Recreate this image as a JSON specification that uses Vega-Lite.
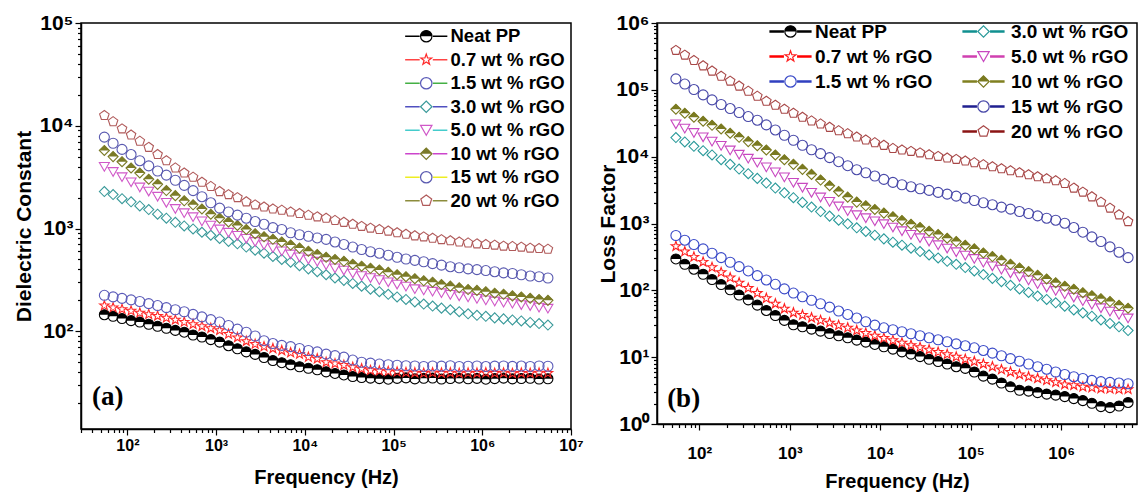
{
"$schema": "https://vega.github.io/schema/vega-lite/v6.json",
"background": "white",
"padding": {"left": 12, "top": 11, "right": 0, "bottom": 0},
"bounds": "flush",
"spacing": 86,
"config": {
  "font": "Liberation Sans",
  "view": {"stroke": "black", "strokeWidth": 1.5},
  "axis": {"grid": false, "domainColor": "black", "domainWidth": 1.5, "tickColor": "black", "tickWidth": 1.2, "labelColor": "black", "titleColor": "black", "labelFont": "Liberation Sans", "titleFont": "Liberation Sans", "labelFontWeight": "bold", "titleFontWeight": "bold", "titleFontSize": 20, "labelOverlap": false, "labelFlush": false},
  "legend": {"labelFont": "Liberation Sans", "labelFontWeight": "bold", "labelColor": "black", "padding": 0}
},
"datasets": {
"a": [
{"s":"Neat PP","f":55,"v":145},{"s":"Neat PP","f":69,"v":140},{"s":"Neat PP","f":87,"v":133},{"s":"Neat PP","f":110,"v":127},{"s":"Neat PP","f":138,"v":123},{"s":"Neat PP","f":174,"v":117},{"s":"Neat PP","f":219,"v":112},{"s":"Neat PP","f":275,"v":107},{"s":"Neat PP","f":347,"v":102},{"s":"Neat PP","f":437,"v":98},
{"s":"Neat PP","f":550,"v":92},{"s":"Neat PP","f":692,"v":88},{"s":"Neat PP","f":871,"v":83},{"s":"Neat PP","f":1096,"v":78.5},{"s":"Neat PP","f":1380,"v":72.4},{"s":"Neat PP","f":1738,"v":67.6},{"s":"Neat PP","f":2188,"v":63},{"s":"Neat PP","f":2754,"v":59.6},{"s":"Neat PP","f":3467,"v":55.6},{"s":"Neat PP","f":4365,"v":51.9},
{"s":"Neat PP","f":5495,"v":49.5},{"s":"Neat PP","f":6918,"v":47.3},{"s":"Neat PP","f":8710,"v":45.2},{"s":"Neat PP","f":10965,"v":43.7},{"s":"Neat PP","f":13804,"v":42.2},{"s":"Neat PP","f":17378,"v":40.3},{"s":"Neat PP","f":21878,"v":38.9},{"s":"Neat PP","f":27542,"v":37.6},{"s":"Neat PP","f":34674,"v":36.3},{"s":"Neat PP","f":43652,"v":35.5},
{"s":"Neat PP","f":54954,"v":35},{"s":"Neat PP","f":69183,"v":34.6},{"s":"Neat PP","f":87096,"v":34.2},{"s":"Neat PP","f":109648,"v":34.8},{"s":"Neat PP","f":138038,"v":35.2},{"s":"Neat PP","f":173780,"v":34.4},{"s":"Neat PP","f":218776,"v":34.9},{"s":"Neat PP","f":275423,"v":35.1},{"s":"Neat PP","f":346737,"v":34.3},{"s":"Neat PP","f":436516,"v":34.7},
{"s":"Neat PP","f":549541,"v":35},{"s":"Neat PP","f":691831,"v":34.5},{"s":"Neat PP","f":870964,"v":34.8},{"s":"Neat PP","f":1096478,"v":34.2},{"s":"Neat PP","f":1380384,"v":34.6},{"s":"Neat PP","f":1737801,"v":35},{"s":"Neat PP","f":2187762,"v":34.4},{"s":"Neat PP","f":2754229,"v":34.7},{"s":"Neat PP","f":3467369,"v":34.9},{"s":"Neat PP","f":4365158,"v":34.3},
{"s":"Neat PP","f":5495409,"v":34.5},
{"s":"0.7 wt % rGO","f":55,"v":178},{"s":"0.7 wt % rGO","f":69,"v":170},{"s":"0.7 wt % rGO","f":87,"v":164},{"s":"0.7 wt % rGO","f":110,"v":158},{"s":"0.7 wt % rGO","f":138,"v":151},{"s":"0.7 wt % rGO","f":174,"v":146},{"s":"0.7 wt % rGO","f":219,"v":141},{"s":"0.7 wt % rGO","f":275,"v":135},{"s":"0.7 wt % rGO","f":347,"v":129},{"s":"0.7 wt % rGO","f":437,"v":123},
{"s":"0.7 wt % rGO","f":550,"v":117},{"s":"0.7 wt % rGO","f":692,"v":112},{"s":"0.7 wt % rGO","f":871,"v":107},{"s":"0.7 wt % rGO","f":1096,"v":102},{"s":"0.7 wt % rGO","f":1380,"v":94},{"s":"0.7 wt % rGO","f":1738,"v":87},{"s":"0.7 wt % rGO","f":2188,"v":80},{"s":"0.7 wt % rGO","f":2754,"v":75},{"s":"0.7 wt % rGO","f":3467,"v":71},{"s":"0.7 wt % rGO","f":4365,"v":68},
{"s":"0.7 wt % rGO","f":5495,"v":65},{"s":"0.7 wt % rGO","f":6918,"v":62},{"s":"0.7 wt % rGO","f":8710,"v":60},{"s":"0.7 wt % rGO","f":10965,"v":56},{"s":"0.7 wt % rGO","f":13804,"v":54},{"s":"0.7 wt % rGO","f":17378,"v":50},{"s":"0.7 wt % rGO","f":21878,"v":48.4},{"s":"0.7 wt % rGO","f":27542,"v":46.8},{"s":"0.7 wt % rGO","f":34674,"v":44.7},{"s":"0.7 wt % rGO","f":43652,"v":43.2},
{"s":"0.7 wt % rGO","f":54954,"v":41.7},{"s":"0.7 wt % rGO","f":69183,"v":41.2},{"s":"0.7 wt % rGO","f":87096,"v":40.7},{"s":"0.7 wt % rGO","f":109648,"v":40.3},{"s":"0.7 wt % rGO","f":138038,"v":39.8},{"s":"0.7 wt % rGO","f":173780,"v":39.5},{"s":"0.7 wt % rGO","f":218776,"v":39.2},{"s":"0.7 wt % rGO","f":275423,"v":39.6},{"s":"0.7 wt % rGO","f":346737,"v":39.3},{"s":"0.7 wt % rGO","f":436516,"v":39.5},
{"s":"0.7 wt % rGO","f":549541,"v":39.1},{"s":"0.7 wt % rGO","f":691831,"v":39.4},{"s":"0.7 wt % rGO","f":870964,"v":39.3},{"s":"0.7 wt % rGO","f":1096478,"v":39.6},{"s":"0.7 wt % rGO","f":1380384,"v":39.2},{"s":"0.7 wt % rGO","f":1737801,"v":39.4},{"s":"0.7 wt % rGO","f":2187762,"v":39.0},{"s":"0.7 wt % rGO","f":2754229,"v":39.3},{"s":"0.7 wt % rGO","f":3467369,"v":39.1},{"s":"0.7 wt % rGO","f":4365158,"v":39.4},
{"s":"0.7 wt % rGO","f":5495409,"v":39.2},
{"s":"1.5 wt % rGO","f":55,"v":224},{"s":"1.5 wt % rGO","f":69,"v":216},{"s":"1.5 wt % rGO","f":87,"v":209},{"s":"1.5 wt % rGO","f":110,"v":202},{"s":"1.5 wt % rGO","f":138,"v":195},{"s":"1.5 wt % rGO","f":174,"v":186},{"s":"1.5 wt % rGO","f":219,"v":178},{"s":"1.5 wt % rGO","f":275,"v":170},{"s":"1.5 wt % rGO","f":347,"v":162},{"s":"1.5 wt % rGO","f":437,"v":155},
{"s":"1.5 wt % rGO","f":550,"v":146},{"s":"1.5 wt % rGO","f":692,"v":138},{"s":"1.5 wt % rGO","f":871,"v":130},{"s":"1.5 wt % rGO","f":1096,"v":123},{"s":"1.5 wt % rGO","f":1380,"v":114},{"s":"1.5 wt % rGO","f":1738,"v":105},{"s":"1.5 wt % rGO","f":2188,"v":98},{"s":"1.5 wt % rGO","f":2754,"v":90},{"s":"1.5 wt % rGO","f":3467,"v":81},{"s":"1.5 wt % rGO","f":4365,"v":76},
{"s":"1.5 wt % rGO","f":5495,"v":73},{"s":"1.5 wt % rGO","f":6918,"v":71},{"s":"1.5 wt % rGO","f":8710,"v":68},{"s":"1.5 wt % rGO","f":10965,"v":65},{"s":"1.5 wt % rGO","f":13804,"v":63},{"s":"1.5 wt % rGO","f":17378,"v":60},{"s":"1.5 wt % rGO","f":21878,"v":58},{"s":"1.5 wt % rGO","f":27542,"v":56},{"s":"1.5 wt % rGO","f":34674,"v":52.5},{"s":"1.5 wt % rGO","f":43652,"v":50},
{"s":"1.5 wt % rGO","f":54954,"v":49},{"s":"1.5 wt % rGO","f":69183,"v":48},{"s":"1.5 wt % rGO","f":87096,"v":47.3},{"s":"1.5 wt % rGO","f":109648,"v":46.8},{"s":"1.5 wt % rGO","f":138038,"v":46.2},{"s":"1.5 wt % rGO","f":173780,"v":46},{"s":"1.5 wt % rGO","f":218776,"v":45.5},{"s":"1.5 wt % rGO","f":275423,"v":46},{"s":"1.5 wt % rGO","f":346737,"v":45.8},{"s":"1.5 wt % rGO","f":436516,"v":46.2},
{"s":"1.5 wt % rGO","f":549541,"v":45.5},{"s":"1.5 wt % rGO","f":691831,"v":45.7},{"s":"1.5 wt % rGO","f":870964,"v":46},{"s":"1.5 wt % rGO","f":1096478,"v":45.4},{"s":"1.5 wt % rGO","f":1380384,"v":45.8},{"s":"1.5 wt % rGO","f":1737801,"v":46},{"s":"1.5 wt % rGO","f":2187762,"v":45.6},{"s":"1.5 wt % rGO","f":2754229,"v":45.9},{"s":"1.5 wt % rGO","f":3467369,"v":45.5},{"s":"1.5 wt % rGO","f":4365158,"v":46},
{"s":"1.5 wt % rGO","f":5495409,"v":45.7},
{"s":"3.0 wt % rGO","f":55,"v":2290},{"s":"3.0 wt % rGO","f":69,"v":2140},{"s":"3.0 wt % rGO","f":87,"v":1950},{"s":"3.0 wt % rGO","f":110,"v":1820},{"s":"3.0 wt % rGO","f":138,"v":1660},{"s":"3.0 wt % rGO","f":174,"v":1530},{"s":"3.0 wt % rGO","f":219,"v":1380},{"s":"3.0 wt % rGO","f":275,"v":1260},{"s":"3.0 wt % rGO","f":347,"v":1150},{"s":"3.0 wt % rGO","f":437,"v":1060},
{"s":"3.0 wt % rGO","f":550,"v":990},{"s":"3.0 wt % rGO","f":692,"v":920},{"s":"3.0 wt % rGO","f":871,"v":860},{"s":"3.0 wt % rGO","f":1096,"v":800},{"s":"3.0 wt % rGO","f":1380,"v":750},{"s":"3.0 wt % rGO","f":1738,"v":710},{"s":"3.0 wt % rGO","f":2188,"v":660},{"s":"3.0 wt % rGO","f":2754,"v":615},{"s":"3.0 wt % rGO","f":3467,"v":575},{"s":"3.0 wt % rGO","f":4365,"v":535},
{"s":"3.0 wt % rGO","f":5495,"v":500},{"s":"3.0 wt % rGO","f":6918,"v":470},{"s":"3.0 wt % rGO","f":8710,"v":435},{"s":"3.0 wt % rGO","f":10965,"v":405},{"s":"3.0 wt % rGO","f":13804,"v":380},{"s":"3.0 wt % rGO","f":17378,"v":355},{"s":"3.0 wt % rGO","f":21878,"v":330},{"s":"3.0 wt % rGO","f":27542,"v":313},{"s":"3.0 wt % rGO","f":34674,"v":292},{"s":"3.0 wt % rGO","f":43652,"v":275},
{"s":"3.0 wt % rGO","f":54954,"v":257},{"s":"3.0 wt % rGO","f":69183,"v":243},{"s":"3.0 wt % rGO","f":87096,"v":229},{"s":"3.0 wt % rGO","f":109648,"v":216},{"s":"3.0 wt % rGO","f":138038,"v":204},{"s":"3.0 wt % rGO","f":173780,"v":193},{"s":"3.0 wt % rGO","f":218776,"v":184},{"s":"3.0 wt % rGO","f":275423,"v":176},{"s":"3.0 wt % rGO","f":346737,"v":168},{"s":"3.0 wt % rGO","f":436516,"v":162},
{"s":"3.0 wt % rGO","f":549541,"v":155},{"s":"3.0 wt % rGO","f":691831,"v":148},{"s":"3.0 wt % rGO","f":870964,"v":143},{"s":"3.0 wt % rGO","f":1096478,"v":140},{"s":"3.0 wt % rGO","f":1380384,"v":135},{"s":"3.0 wt % rGO","f":1737801,"v":132},{"s":"3.0 wt % rGO","f":2187762,"v":129},{"s":"3.0 wt % rGO","f":2754229,"v":126},{"s":"3.0 wt % rGO","f":3467369,"v":122},{"s":"3.0 wt % rGO","f":4365158,"v":119},
{"s":"3.0 wt % rGO","f":5495409,"v":115},
{"s":"5.0 wt % rGO","f":55,"v":3980},{"s":"5.0 wt % rGO","f":69,"v":3550},{"s":"5.0 wt % rGO","f":87,"v":3160},{"s":"5.0 wt % rGO","f":110,"v":2820},{"s":"5.0 wt % rGO","f":138,"v":2510},{"s":"5.0 wt % rGO","f":174,"v":2290},{"s":"5.0 wt % rGO","f":219,"v":2040},{"s":"5.0 wt % rGO","f":275,"v":1780},{"s":"5.0 wt % rGO","f":347,"v":1550},{"s":"5.0 wt % rGO","f":437,"v":1410},
{"s":"5.0 wt % rGO","f":550,"v":1290},{"s":"5.0 wt % rGO","f":692,"v":1175},{"s":"5.0 wt % rGO","f":871,"v":1070},{"s":"5.0 wt % rGO","f":1096,"v":980},{"s":"5.0 wt % rGO","f":1380,"v":910},{"s":"5.0 wt % rGO","f":1738,"v":850},{"s":"5.0 wt % rGO","f":2188,"v":795},{"s":"5.0 wt % rGO","f":2754,"v":740},{"s":"5.0 wt % rGO","f":3467,"v":690},{"s":"5.0 wt % rGO","f":4365,"v":645},
{"s":"5.0 wt % rGO","f":5495,"v":600},{"s":"5.0 wt % rGO","f":6918,"v":560},{"s":"5.0 wt % rGO","f":8710,"v":525},{"s":"5.0 wt % rGO","f":10965,"v":500},{"s":"5.0 wt % rGO","f":13804,"v":475},{"s":"5.0 wt % rGO","f":17378,"v":440},{"s":"5.0 wt % rGO","f":21878,"v":410},{"s":"5.0 wt % rGO","f":27542,"v":390},{"s":"5.0 wt % rGO","f":34674,"v":365},{"s":"5.0 wt % rGO","f":43652,"v":345},
{"s":"5.0 wt % rGO","f":54954,"v":330},{"s":"5.0 wt % rGO","f":69183,"v":315},{"s":"5.0 wt % rGO","f":87096,"v":300},{"s":"5.0 wt % rGO","f":109648,"v":285},{"s":"5.0 wt % rGO","f":138038,"v":272},{"s":"5.0 wt % rGO","f":173780,"v":257},{"s":"5.0 wt % rGO","f":218776,"v":250},{"s":"5.0 wt % rGO","f":275423,"v":243},{"s":"5.0 wt % rGO","f":346737,"v":235},{"s":"5.0 wt % rGO","f":436516,"v":226},
{"s":"5.0 wt % rGO","f":549541,"v":219},{"s":"5.0 wt % rGO","f":691831,"v":214},{"s":"5.0 wt % rGO","f":870964,"v":207},{"s":"5.0 wt % rGO","f":1096478,"v":200},{"s":"5.0 wt % rGO","f":1380384,"v":195},{"s":"5.0 wt % rGO","f":1737801,"v":190},{"s":"5.0 wt % rGO","f":2187762,"v":186},{"s":"5.0 wt % rGO","f":2754229,"v":180},{"s":"5.0 wt % rGO","f":3467369,"v":176},{"s":"5.0 wt % rGO","f":4365158,"v":170},
{"s":"5.0 wt % rGO","f":5495409,"v":166},
{"s":"10 wt % rGO","f":55,"v":5750},{"s":"10 wt % rGO","f":69,"v":5010},{"s":"10 wt % rGO","f":87,"v":4470},{"s":"10 wt % rGO","f":110,"v":3890},{"s":"10 wt % rGO","f":138,"v":3470},{"s":"10 wt % rGO","f":174,"v":3020},{"s":"10 wt % rGO","f":219,"v":2690},{"s":"10 wt % rGO","f":275,"v":2340},{"s":"10 wt % rGO","f":347,"v":2090},{"s":"10 wt % rGO","f":437,"v":1860},
{"s":"10 wt % rGO","f":550,"v":1700},{"s":"10 wt % rGO","f":692,"v":1550},{"s":"10 wt % rGO","f":871,"v":1380},{"s":"10 wt % rGO","f":1096,"v":1260},{"s":"10 wt % rGO","f":1380,"v":1160},{"s":"10 wt % rGO","f":1738,"v":1070},{"s":"10 wt % rGO","f":2188,"v":980},{"s":"10 wt % rGO","f":2754,"v":890},{"s":"10 wt % rGO","f":3467,"v":830},{"s":"10 wt % rGO","f":4365,"v":785},
{"s":"10 wt % rGO","f":5495,"v":740},{"s":"10 wt % rGO","f":6918,"v":690},{"s":"10 wt % rGO","f":8710,"v":645},{"s":"10 wt % rGO","f":10965,"v":600},{"s":"10 wt % rGO","f":13804,"v":560},{"s":"10 wt % rGO","f":17378,"v":525},{"s":"10 wt % rGO","f":21878,"v":500},{"s":"10 wt % rGO","f":27542,"v":480},{"s":"10 wt % rGO","f":34674,"v":450},{"s":"10 wt % rGO","f":43652,"v":430},
{"s":"10 wt % rGO","f":54954,"v":410},{"s":"10 wt % rGO","f":69183,"v":395},{"s":"10 wt % rGO","f":87096,"v":375},{"s":"10 wt % rGO","f":109648,"v":355},{"s":"10 wt % rGO","f":138038,"v":340},{"s":"10 wt % rGO","f":173780,"v":325},{"s":"10 wt % rGO","f":218776,"v":310},{"s":"10 wt % rGO","f":275423,"v":300},{"s":"10 wt % rGO","f":346737,"v":285},{"s":"10 wt % rGO","f":436516,"v":275},
{"s":"10 wt % rGO","f":549541,"v":265},{"s":"10 wt % rGO","f":691831,"v":255},{"s":"10 wt % rGO","f":870964,"v":250},{"s":"10 wt % rGO","f":1096478,"v":243},{"s":"10 wt % rGO","f":1380384,"v":235},{"s":"10 wt % rGO","f":1737801,"v":229},{"s":"10 wt % rGO","f":2187762,"v":221},{"s":"10 wt % rGO","f":2754229,"v":216},{"s":"10 wt % rGO","f":3467369,"v":210},{"s":"10 wt % rGO","f":4365158,"v":204},
{"s":"10 wt % rGO","f":5495409,"v":200},
{"s":"15 wt % rGO","f":55,"v":7760},{"s":"15 wt % rGO","f":69,"v":6760},{"s":"15 wt % rGO","f":87,"v":5890},{"s":"15 wt % rGO","f":110,"v":5250},{"s":"15 wt % rGO","f":138,"v":4570},{"s":"15 wt % rGO","f":174,"v":4070},{"s":"15 wt % rGO","f":219,"v":3630},{"s":"15 wt % rGO","f":275,"v":3310},{"s":"15 wt % rGO","f":347,"v":2950},{"s":"15 wt % rGO","f":437,"v":2630},
{"s":"15 wt % rGO","f":550,"v":2340},{"s":"15 wt % rGO","f":692,"v":2040},{"s":"15 wt % rGO","f":871,"v":1780},{"s":"15 wt % rGO","f":1096,"v":1580},{"s":"15 wt % rGO","f":1380,"v":1450},{"s":"15 wt % rGO","f":1738,"v":1350},{"s":"15 wt % rGO","f":2188,"v":1260},{"s":"15 wt % rGO","f":2754,"v":1170},{"s":"15 wt % rGO","f":3467,"v":1100},{"s":"15 wt % rGO","f":4365,"v":1020},
{"s":"15 wt % rGO","f":5495,"v":980},{"s":"15 wt % rGO","f":6918,"v":910},{"s":"15 wt % rGO","f":8710,"v":870},{"s":"15 wt % rGO","f":10965,"v":840},{"s":"15 wt % rGO","f":13804,"v":810},{"s":"15 wt % rGO","f":17378,"v":785},{"s":"15 wt % rGO","f":21878,"v":740},{"s":"15 wt % rGO","f":27542,"v":700},{"s":"15 wt % rGO","f":34674,"v":660},{"s":"15 wt % rGO","f":43652,"v":625},
{"s":"15 wt % rGO","f":54954,"v":595},{"s":"15 wt % rGO","f":69183,"v":575},{"s":"15 wt % rGO","f":87096,"v":550},{"s":"15 wt % rGO","f":109648,"v":525},{"s":"15 wt % rGO","f":138038,"v":505},{"s":"15 wt % rGO","f":173780,"v":490},{"s":"15 wt % rGO","f":218776,"v":475},{"s":"15 wt % rGO","f":275423,"v":455},{"s":"15 wt % rGO","f":346737,"v":440},{"s":"15 wt % rGO","f":436516,"v":425},
{"s":"15 wt % rGO","f":549541,"v":415},{"s":"15 wt % rGO","f":691831,"v":405},{"s":"15 wt % rGO","f":870964,"v":398},{"s":"15 wt % rGO","f":1096478,"v":390},{"s":"15 wt % rGO","f":1380384,"v":380},{"s":"15 wt % rGO","f":1737801,"v":370},{"s":"15 wt % rGO","f":2187762,"v":365},{"s":"15 wt % rGO","f":2754229,"v":355},{"s":"15 wt % rGO","f":3467369,"v":345},{"s":"15 wt % rGO","f":4365158,"v":340},
{"s":"15 wt % rGO","f":5495409,"v":330},
{"s":"20 wt % rGO","f":55,"v":12600},{"s":"20 wt % rGO","f":69,"v":10960},{"s":"20 wt % rGO","f":87,"v":9330},{"s":"20 wt % rGO","f":110,"v":8130},{"s":"20 wt % rGO","f":138,"v":7080},{"s":"20 wt % rGO","f":174,"v":6170},{"s":"20 wt % rGO","f":219,"v":5250},{"s":"20 wt % rGO","f":275,"v":4570},{"s":"20 wt % rGO","f":347,"v":3890},{"s":"20 wt % rGO","f":437,"v":3470},
{"s":"20 wt % rGO","f":550,"v":3160},{"s":"20 wt % rGO","f":692,"v":2820},{"s":"20 wt % rGO","f":871,"v":2570},{"s":"20 wt % rGO","f":1096,"v":2290},{"s":"20 wt % rGO","f":1380,"v":2140},{"s":"20 wt % rGO","f":1738,"v":2000},{"s":"20 wt % rGO","f":2188,"v":1820},{"s":"20 wt % rGO","f":2754,"v":1700},{"s":"20 wt % rGO","f":3467,"v":1620},{"s":"20 wt % rGO","f":4365,"v":1550},
{"s":"20 wt % rGO","f":5495,"v":1510},{"s":"20 wt % rGO","f":6918,"v":1450},{"s":"20 wt % rGO","f":8710,"v":1400},{"s":"20 wt % rGO","f":10965,"v":1350},{"s":"20 wt % rGO","f":13804,"v":1300},{"s":"20 wt % rGO","f":17378,"v":1260},{"s":"20 wt % rGO","f":21878,"v":1200},{"s":"20 wt % rGO","f":27542,"v":1150},{"s":"20 wt % rGO","f":34674,"v":1100},{"s":"20 wt % rGO","f":43652,"v":1050},
{"s":"20 wt % rGO","f":54954,"v":1010},{"s":"20 wt % rGO","f":69183,"v":980},{"s":"20 wt % rGO","f":87096,"v":945},{"s":"20 wt % rGO","f":109648,"v":910},{"s":"20 wt % rGO","f":138038,"v":880},{"s":"20 wt % rGO","f":173780,"v":850},{"s":"20 wt % rGO","f":218776,"v":830},{"s":"20 wt % rGO","f":275423,"v":805},{"s":"20 wt % rGO","f":346737,"v":780},{"s":"20 wt % rGO","f":436516,"v":760},
{"s":"20 wt % rGO","f":549541,"v":740},{"s":"20 wt % rGO","f":691831,"v":725},{"s":"20 wt % rGO","f":870964,"v":710},{"s":"20 wt % rGO","f":1096478,"v":700},{"s":"20 wt % rGO","f":1380384,"v":690},{"s":"20 wt % rGO","f":1737801,"v":675},{"s":"20 wt % rGO","f":2187762,"v":670},{"s":"20 wt % rGO","f":2754229,"v":660},{"s":"20 wt % rGO","f":3467369,"v":645},{"s":"20 wt % rGO","f":4365158,"v":640},
{"s":"20 wt % rGO","f":5495409,"v":630}
],
"b": [
{"s":"Neat PP","f":55,"v":295},{"s":"Neat PP","f":69,"v":245},{"s":"Neat PP","f":87,"v":207},{"s":"Neat PP","f":110,"v":174},{"s":"Neat PP","f":138,"v":145},{"s":"Neat PP","f":174,"v":122},{"s":"Neat PP","f":219,"v":102},{"s":"Neat PP","f":275,"v":85},{"s":"Neat PP","f":347,"v":72},{"s":"Neat PP","f":437,"v":60},
{"s":"Neat PP","f":550,"v":50},{"s":"Neat PP","f":692,"v":42},{"s":"Neat PP","f":871,"v":35.5},{"s":"Neat PP","f":1096,"v":30.5},{"s":"Neat PP","f":1380,"v":28.5},{"s":"Neat PP","f":1738,"v":26.3},{"s":"Neat PP","f":2188,"v":24.5},{"s":"Neat PP","f":2754,"v":22.6},{"s":"Neat PP","f":3467,"v":20.9},{"s":"Neat PP","f":4365,"v":19.5},
{"s":"Neat PP","f":5495,"v":18},{"s":"Neat PP","f":6918,"v":16.8},{"s":"Neat PP","f":8710,"v":15.5},{"s":"Neat PP","f":10965,"v":14.3},{"s":"Neat PP","f":13804,"v":13.2},{"s":"Neat PP","f":17378,"v":12},{"s":"Neat PP","f":21878,"v":11.1},{"s":"Neat PP","f":27542,"v":10.2},{"s":"Neat PP","f":34674,"v":9.3},{"s":"Neat PP","f":43652,"v":8.6},
{"s":"Neat PP","f":54954,"v":7.9},{"s":"Neat PP","f":69183,"v":7.2},{"s":"Neat PP","f":87096,"v":6.8},{"s":"Neat PP","f":109648,"v":6.0},{"s":"Neat PP","f":138038,"v":5.2},{"s":"Neat PP","f":173780,"v":4.7},{"s":"Neat PP","f":218776,"v":4.1},{"s":"Neat PP","f":275423,"v":3.6},{"s":"Neat PP","f":346737,"v":3.2},{"s":"Neat PP","f":436516,"v":3.1},
{"s":"Neat PP","f":549541,"v":2.95},{"s":"Neat PP","f":691831,"v":2.8},{"s":"Neat PP","f":870964,"v":2.7},{"s":"Neat PP","f":1096478,"v":2.57},{"s":"Neat PP","f":1380384,"v":2.4},{"s":"Neat PP","f":1737801,"v":2.24},{"s":"Neat PP","f":2187762,"v":2.04},{"s":"Neat PP","f":2754229,"v":1.82},{"s":"Neat PP","f":3467369,"v":1.76},{"s":"Neat PP","f":4365158,"v":1.86},
{"s":"Neat PP","f":5495409,"v":2.1},
{"s":"0.7 wt % rGO","f":55,"v":457},{"s":"0.7 wt % rGO","f":69,"v":380},{"s":"0.7 wt % rGO","f":87,"v":316},{"s":"0.7 wt % rGO","f":110,"v":266},{"s":"0.7 wt % rGO","f":138,"v":221},{"s":"0.7 wt % rGO","f":174,"v":186},{"s":"0.7 wt % rGO","f":219,"v":155},{"s":"0.7 wt % rGO","f":275,"v":130},{"s":"0.7 wt % rGO","f":347,"v":108},{"s":"0.7 wt % rGO","f":437,"v":91},
{"s":"0.7 wt % rGO","f":550,"v":76},{"s":"0.7 wt % rGO","f":692,"v":63},{"s":"0.7 wt % rGO","f":871,"v":53},{"s":"0.7 wt % rGO","f":1096,"v":46.2},{"s":"0.7 wt % rGO","f":1380,"v":42.7},{"s":"0.7 wt % rGO","f":1738,"v":38.9},{"s":"0.7 wt % rGO","f":2188,"v":35.5},{"s":"0.7 wt % rGO","f":2754,"v":32.7},{"s":"0.7 wt % rGO","f":3467,"v":29.9},{"s":"0.7 wt % rGO","f":4365,"v":27.5},
{"s":"0.7 wt % rGO","f":5495,"v":25.1},{"s":"0.7 wt % rGO","f":6918,"v":22.9},{"s":"0.7 wt % rGO","f":8710,"v":20.9},{"s":"0.7 wt % rGO","f":10965,"v":19.3},{"s":"0.7 wt % rGO","f":13804,"v":17.8},{"s":"0.7 wt % rGO","f":17378,"v":16.4},{"s":"0.7 wt % rGO","f":21878,"v":15.1},{"s":"0.7 wt % rGO","f":27542,"v":14},{"s":"0.7 wt % rGO","f":34674,"v":12.9},{"s":"0.7 wt % rGO","f":43652,"v":11.9},
{"s":"0.7 wt % rGO","f":54954,"v":11},{"s":"0.7 wt % rGO","f":69183,"v":10.1},{"s":"0.7 wt % rGO","f":87096,"v":9.3},{"s":"0.7 wt % rGO","f":109648,"v":8.6},{"s":"0.7 wt % rGO","f":138038,"v":7.9},{"s":"0.7 wt % rGO","f":173780,"v":7.2},{"s":"0.7 wt % rGO","f":218776,"v":6.5},{"s":"0.7 wt % rGO","f":275423,"v":6.0},{"s":"0.7 wt % rGO","f":346737,"v":5.5},{"s":"0.7 wt % rGO","f":436516,"v":5.1},
{"s":"0.7 wt % rGO","f":549541,"v":4.8},{"s":"0.7 wt % rGO","f":691831,"v":4.5},{"s":"0.7 wt % rGO","f":870964,"v":4.2},{"s":"0.7 wt % rGO","f":1096478,"v":3.9},{"s":"0.7 wt % rGO","f":1380384,"v":3.8},{"s":"0.7 wt % rGO","f":1737801,"v":3.6},{"s":"0.7 wt % rGO","f":2187762,"v":3.5},{"s":"0.7 wt % rGO","f":2754229,"v":3.4},{"s":"0.7 wt % rGO","f":3467369,"v":3.35},{"s":"0.7 wt % rGO","f":4365158,"v":3.3},
{"s":"0.7 wt % rGO","f":5495409,"v":3.3},
{"s":"1.5 wt % rGO","f":55,"v":661},{"s":"1.5 wt % rGO","f":69,"v":562},{"s":"1.5 wt % rGO","f":87,"v":484},{"s":"1.5 wt % rGO","f":110,"v":417},{"s":"1.5 wt % rGO","f":138,"v":359},{"s":"1.5 wt % rGO","f":174,"v":309},{"s":"1.5 wt % rGO","f":219,"v":263},{"s":"1.5 wt % rGO","f":275,"v":226},{"s":"1.5 wt % rGO","f":347,"v":195},{"s":"1.5 wt % rGO","f":437,"v":166},
{"s":"1.5 wt % rGO","f":550,"v":143},{"s":"1.5 wt % rGO","f":692,"v":123},{"s":"1.5 wt % rGO","f":871,"v":105},{"s":"1.5 wt % rGO","f":1096,"v":91},{"s":"1.5 wt % rGO","f":1380,"v":80},{"s":"1.5 wt % rGO","f":1738,"v":71},{"s":"1.5 wt % rGO","f":2188,"v":63},{"s":"1.5 wt % rGO","f":2754,"v":56},{"s":"1.5 wt % rGO","f":3467,"v":49},{"s":"1.5 wt % rGO","f":4365,"v":43.6},
{"s":"1.5 wt % rGO","f":5495,"v":38.5},{"s":"1.5 wt % rGO","f":6918,"v":33.9},{"s":"1.5 wt % rGO","f":8710,"v":30.2},{"s":"1.5 wt % rGO","f":10965,"v":27.5},{"s":"1.5 wt % rGO","f":13804,"v":25.7},{"s":"1.5 wt % rGO","f":17378,"v":24},{"s":"1.5 wt % rGO","f":21878,"v":22.4},{"s":"1.5 wt % rGO","f":27542,"v":20.9},{"s":"1.5 wt % rGO","f":34674,"v":19.5},{"s":"1.5 wt % rGO","f":43652,"v":18.2},
{"s":"1.5 wt % rGO","f":54954,"v":17},{"s":"1.5 wt % rGO","f":69183,"v":15.8},{"s":"1.5 wt % rGO","f":87096,"v":14.8},{"s":"1.5 wt % rGO","f":109648,"v":13.8},{"s":"1.5 wt % rGO","f":138038,"v":12.6},{"s":"1.5 wt % rGO","f":173780,"v":11.5},{"s":"1.5 wt % rGO","f":218776,"v":10.5},{"s":"1.5 wt % rGO","f":275423,"v":9.5},{"s":"1.5 wt % rGO","f":346737,"v":8.7},{"s":"1.5 wt % rGO","f":436516,"v":7.9},
{"s":"1.5 wt % rGO","f":549541,"v":7.2},{"s":"1.5 wt % rGO","f":691831,"v":6.6},{"s":"1.5 wt % rGO","f":870964,"v":6.0},{"s":"1.5 wt % rGO","f":1096478,"v":5.5},{"s":"1.5 wt % rGO","f":1380384,"v":5.1},{"s":"1.5 wt % rGO","f":1737801,"v":4.8},{"s":"1.5 wt % rGO","f":2187762,"v":4.5},{"s":"1.5 wt % rGO","f":2754229,"v":4.3},{"s":"1.5 wt % rGO","f":3467369,"v":4.2},{"s":"1.5 wt % rGO","f":4365158,"v":4.1},
{"s":"1.5 wt % rGO","f":5495409,"v":4.0},
{"s":"3.0 wt % rGO","f":55,"v":19300},{"s":"3.0 wt % rGO","f":69,"v":16600},{"s":"3.0 wt % rGO","f":87,"v":14300},{"s":"3.0 wt % rGO","f":110,"v":12300},{"s":"3.0 wt % rGO","f":138,"v":10600},{"s":"3.0 wt % rGO","f":174,"v":9020},{"s":"3.0 wt % rGO","f":219,"v":7670},{"s":"3.0 wt % rGO","f":275,"v":6530},{"s":"3.0 wt % rGO","f":347,"v":5560},{"s":"3.0 wt % rGO","f":437,"v":4730},
{"s":"3.0 wt % rGO","f":550,"v":4030},{"s":"3.0 wt % rGO","f":692,"v":3390},{"s":"3.0 wt % rGO","f":871,"v":2880},{"s":"3.0 wt % rGO","f":1096,"v":2430},{"s":"3.0 wt % rGO","f":1380,"v":2070},{"s":"3.0 wt % rGO","f":1738,"v":1760},{"s":"3.0 wt % rGO","f":2188,"v":1510},{"s":"3.0 wt % rGO","f":2754,"v":1290},{"s":"3.0 wt % rGO","f":3467,"v":1120},{"s":"3.0 wt % rGO","f":4365,"v":989},
{"s":"3.0 wt % rGO","f":5495,"v":861},{"s":"3.0 wt % rGO","f":6918,"v":759},{"s":"3.0 wt % rGO","f":8710,"v":668},{"s":"3.0 wt % rGO","f":10965,"v":589},{"s":"3.0 wt % rGO","f":13804,"v":525},{"s":"3.0 wt % rGO","f":17378,"v":473},{"s":"3.0 wt % rGO","f":21878,"v":427},{"s":"3.0 wt % rGO","f":27542,"v":380},{"s":"3.0 wt % rGO","f":34674,"v":339},{"s":"3.0 wt % rGO","f":43652,"v":305},
{"s":"3.0 wt % rGO","f":54954,"v":272},{"s":"3.0 wt % rGO","f":69183,"v":245},{"s":"3.0 wt % rGO","f":87096,"v":219},{"s":"3.0 wt % rGO","f":109648,"v":195},{"s":"3.0 wt % rGO","f":138038,"v":172},{"s":"3.0 wt % rGO","f":173780,"v":151},{"s":"3.0 wt % rGO","f":218776,"v":135},{"s":"3.0 wt % rGO","f":275423,"v":119},{"s":"3.0 wt % rGO","f":346737,"v":105},{"s":"3.0 wt % rGO","f":436516,"v":93},
{"s":"3.0 wt % rGO","f":549541,"v":82},{"s":"3.0 wt % rGO","f":691831,"v":73},{"s":"3.0 wt % rGO","f":870964,"v":65},{"s":"3.0 wt % rGO","f":1096478,"v":58},{"s":"3.0 wt % rGO","f":1380384,"v":51},{"s":"3.0 wt % rGO","f":1737801,"v":46},{"s":"3.0 wt % rGO","f":2187762,"v":41},{"s":"3.0 wt % rGO","f":2754229,"v":36},{"s":"3.0 wt % rGO","f":3467369,"v":32},{"s":"3.0 wt % rGO","f":4365158,"v":28.5},
{"s":"3.0 wt % rGO","f":5495409,"v":25},
{"s":"5.0 wt % rGO","f":55,"v":30500},{"s":"5.0 wt % rGO","f":69,"v":26300},{"s":"5.0 wt % rGO","f":87,"v":22600},{"s":"5.0 wt % rGO","f":110,"v":19500},{"s":"5.0 wt % rGO","f":138,"v":16800},{"s":"5.0 wt % rGO","f":174,"v":14500},{"s":"5.0 wt % rGO","f":219,"v":12400},{"s":"5.0 wt % rGO","f":275,"v":10700},{"s":"5.0 wt % rGO","f":347,"v":9330},{"s":"5.0 wt % rGO","f":437,"v":8130},
{"s":"5.0 wt % rGO","f":550,"v":6920},{"s":"5.0 wt % rGO","f":692,"v":5820},{"s":"5.0 wt % rGO","f":871,"v":4900},{"s":"5.0 wt % rGO","f":1096,"v":4070},{"s":"5.0 wt % rGO","f":1380,"v":3430},{"s":"5.0 wt % rGO","f":1738,"v":2880},{"s":"5.0 wt % rGO","f":2188,"v":2450},{"s":"5.0 wt % rGO","f":2754,"v":2110},{"s":"5.0 wt % rGO","f":3467,"v":1800},{"s":"5.0 wt % rGO","f":4365,"v":1530},
{"s":"5.0 wt % rGO","f":5495,"v":1330},{"s":"5.0 wt % rGO","f":6918,"v":1200},{"s":"5.0 wt % rGO","f":8710,"v":1080},{"s":"5.0 wt % rGO","f":10965,"v":977},{"s":"5.0 wt % rGO","f":13804,"v":871},{"s":"5.0 wt % rGO","f":17378,"v":767},{"s":"5.0 wt % rGO","f":21878,"v":676},{"s":"5.0 wt % rGO","f":27542,"v":603},{"s":"5.0 wt % rGO","f":34674,"v":537},{"s":"5.0 wt % rGO","f":43652,"v":473},
{"s":"5.0 wt % rGO","f":54954,"v":422},{"s":"5.0 wt % rGO","f":69183,"v":372},{"s":"5.0 wt % rGO","f":87096,"v":331},{"s":"5.0 wt % rGO","f":109648,"v":295},{"s":"5.0 wt % rGO","f":138038,"v":260},{"s":"5.0 wt % rGO","f":173780,"v":229},{"s":"5.0 wt % rGO","f":218776,"v":204},{"s":"5.0 wt % rGO","f":275423,"v":180},{"s":"5.0 wt % rGO","f":346737,"v":158},{"s":"5.0 wt % rGO","f":436516,"v":141},
{"s":"5.0 wt % rGO","f":549541,"v":124},{"s":"5.0 wt % rGO","f":691831,"v":110},{"s":"5.0 wt % rGO","f":870964,"v":98},{"s":"5.0 wt % rGO","f":1096478,"v":87},{"s":"5.0 wt % rGO","f":1380384,"v":78},{"s":"5.0 wt % rGO","f":1737801,"v":69},{"s":"5.0 wt % rGO","f":2187762,"v":61},{"s":"5.0 wt % rGO","f":2754229,"v":54},{"s":"5.0 wt % rGO","f":3467369,"v":48},{"s":"5.0 wt % rGO","f":4365158,"v":43},
{"s":"5.0 wt % rGO","f":5495409,"v":38},
{"s":"10 wt % rGO","f":55,"v":51300},{"s":"10 wt % rGO","f":69,"v":44700},{"s":"10 wt % rGO","f":87,"v":38900},{"s":"10 wt % rGO","f":110,"v":33900},{"s":"10 wt % rGO","f":138,"v":29500},{"s":"10 wt % rGO","f":174,"v":26000},{"s":"10 wt % rGO","f":219,"v":22400},{"s":"10 wt % rGO","f":275,"v":19500},{"s":"10 wt % rGO","f":347,"v":16800},{"s":"10 wt % rGO","f":437,"v":14600},
{"s":"10 wt % rGO","f":550,"v":12600},{"s":"10 wt % rGO","f":692,"v":10600},{"s":"10 wt % rGO","f":871,"v":9020},{"s":"10 wt % rGO","f":1096,"v":7670},{"s":"10 wt % rGO","f":1380,"v":6460},{"s":"10 wt % rGO","f":1738,"v":5430},{"s":"10 wt % rGO","f":2188,"v":4470},{"s":"10 wt % rGO","f":2754,"v":3670},{"s":"10 wt % rGO","f":3467,"v":3020},{"s":"10 wt % rGO","f":4365,"v":2480},
{"s":"10 wt % rGO","f":5495,"v":2090},{"s":"10 wt % rGO","f":6918,"v":1840},{"s":"10 wt % rGO","f":8710,"v":1620},{"s":"10 wt % rGO","f":10965,"v":1430},{"s":"10 wt % rGO","f":13804,"v":1260},{"s":"10 wt % rGO","f":17378,"v":1110},{"s":"10 wt % rGO","f":21878,"v":977},{"s":"10 wt % rGO","f":27542,"v":871},{"s":"10 wt % rGO","f":34674,"v":767},{"s":"10 wt % rGO","f":43652,"v":684},
{"s":"10 wt % rGO","f":54954,"v":603},{"s":"10 wt % rGO","f":69183,"v":537},{"s":"10 wt % rGO","f":87096,"v":473},{"s":"10 wt % rGO","f":109648,"v":417},{"s":"10 wt % rGO","f":138038,"v":363},{"s":"10 wt % rGO","f":173780,"v":320},{"s":"10 wt % rGO","f":218776,"v":282},{"s":"10 wt % rGO","f":275423,"v":245},{"s":"10 wt % rGO","f":346737,"v":216},{"s":"10 wt % rGO","f":436516,"v":191},
{"s":"10 wt % rGO","f":549541,"v":168},{"s":"10 wt % rGO","f":691831,"v":148},{"s":"10 wt % rGO","f":870964,"v":130},{"s":"10 wt % rGO","f":1096478,"v":115},{"s":"10 wt % rGO","f":1380384,"v":104},{"s":"10 wt % rGO","f":1737801,"v":92},{"s":"10 wt % rGO","f":2187762,"v":83},{"s":"10 wt % rGO","f":2754229,"v":75},{"s":"10 wt % rGO","f":3467369,"v":68},{"s":"10 wt % rGO","f":4365158,"v":60},
{"s":"10 wt % rGO","f":5495409,"v":54},
{"s":"15 wt % rGO","f":55,"v":146000},{"s":"15 wt % rGO","f":69,"v":122000},{"s":"15 wt % rGO","f":87,"v":101000},{"s":"15 wt % rGO","f":110,"v":84100},{"s":"15 wt % rGO","f":138,"v":70800},{"s":"15 wt % rGO","f":174,"v":60300},{"s":"15 wt % rGO","f":219,"v":52500},{"s":"15 wt % rGO","f":275,"v":45700},{"s":"15 wt % rGO","f":347,"v":39800},{"s":"15 wt % rGO","f":437,"v":35100},
{"s":"15 wt % rGO","f":550,"v":29900},{"s":"15 wt % rGO","f":692,"v":25100},{"s":"15 wt % rGO","f":871,"v":20900},{"s":"15 wt % rGO","f":1096,"v":17600},{"s":"15 wt % rGO","f":1380,"v":14800},{"s":"15 wt % rGO","f":1738,"v":12700},{"s":"15 wt % rGO","f":2188,"v":11100},{"s":"15 wt % rGO","f":2754,"v":9660},{"s":"15 wt % rGO","f":3467,"v":8410},{"s":"15 wt % rGO","f":4365,"v":7330},
{"s":"15 wt % rGO","f":5495,"v":6380},{"s":"15 wt % rGO","f":6918,"v":5750},{"s":"15 wt % rGO","f":8710,"v":5130},{"s":"15 wt % rGO","f":10965,"v":4570},{"s":"15 wt % rGO","f":13804,"v":4120},{"s":"15 wt % rGO","f":17378,"v":3800},{"s":"15 wt % rGO","f":21878,"v":3550},{"s":"15 wt % rGO","f":27542,"v":3310},{"s":"15 wt % rGO","f":34674,"v":3130},{"s":"15 wt % rGO","f":43652,"v":2920},
{"s":"15 wt % rGO","f":54954,"v":2750},{"s":"15 wt % rGO","f":69183,"v":2570},{"s":"15 wt % rGO","f":87096,"v":2400},{"s":"15 wt % rGO","f":109648,"v":2210},{"s":"15 wt % rGO","f":138038,"v":2040},{"s":"15 wt % rGO","f":173780,"v":1910},{"s":"15 wt % rGO","f":218776,"v":1760},{"s":"15 wt % rGO","f":275423,"v":1640},{"s":"15 wt % rGO","f":346737,"v":1510},{"s":"15 wt % rGO","f":436516,"v":1410},
{"s":"15 wt % rGO","f":549541,"v":1300},{"s":"15 wt % rGO","f":691831,"v":1200},{"s":"15 wt % rGO","f":870964,"v":1120},{"s":"15 wt % rGO","f":1096478,"v":1010},{"s":"15 wt % rGO","f":1380384,"v":870},{"s":"15 wt % rGO","f":1737801,"v":741},{"s":"15 wt % rGO","f":2187762,"v":631},{"s":"15 wt % rGO","f":2754229,"v":537},{"s":"15 wt % rGO","f":3467369,"v":447},{"s":"15 wt % rGO","f":4365158,"v":372},
{"s":"15 wt % rGO","f":5495409,"v":309},
{"s":"20 wt % rGO","f":55,"v":390000},{"s":"20 wt % rGO","f":69,"v":331000},{"s":"20 wt % rGO","f":87,"v":275000},{"s":"20 wt % rGO","f":110,"v":229000},{"s":"20 wt % rGO","f":138,"v":191000},{"s":"20 wt % rGO","f":174,"v":160000},{"s":"20 wt % rGO","f":219,"v":135000},{"s":"20 wt % rGO","f":275,"v":114000},{"s":"20 wt % rGO","f":347,"v":95500},{"s":"20 wt % rGO","f":437,"v":80400},
{"s":"20 wt % rGO","f":550,"v":67600},{"s":"20 wt % rGO","f":692,"v":58900},{"s":"20 wt % rGO","f":871,"v":51300},{"s":"20 wt % rGO","f":1096,"v":44700},{"s":"20 wt % rGO","f":1380,"v":38900},{"s":"20 wt % rGO","f":1738,"v":34300},{"s":"20 wt % rGO","f":2188,"v":30900},{"s":"20 wt % rGO","f":2754,"v":27500},{"s":"20 wt % rGO","f":3467,"v":24500},{"s":"20 wt % rGO","f":4365,"v":22100},
{"s":"20 wt % rGO","f":5495,"v":19700},{"s":"20 wt % rGO","f":6918,"v":17800},{"s":"20 wt % rGO","f":8710,"v":16200},{"s":"20 wt % rGO","f":10965,"v":14800},{"s":"20 wt % rGO","f":13804,"v":13300},{"s":"20 wt % rGO","f":17378,"v":12600},{"s":"20 wt % rGO","f":21878,"v":12000},{"s":"20 wt % rGO","f":27542,"v":11400},{"s":"20 wt % rGO","f":34674,"v":10700},{"s":"20 wt % rGO","f":43652,"v":10100},
{"s":"20 wt % rGO","f":54954,"v":9550},{"s":"20 wt % rGO","f":69183,"v":9120},{"s":"20 wt % rGO","f":87096,"v":8610},{"s":"20 wt % rGO","f":109648,"v":8130},{"s":"20 wt % rGO","f":138038,"v":7590},{"s":"20 wt % rGO","f":173780,"v":7080},{"s":"20 wt % rGO","f":218776,"v":6610},{"s":"20 wt % rGO","f":275423,"v":6170},{"s":"20 wt % rGO","f":346737,"v":5750},{"s":"20 wt % rGO","f":436516,"v":5370},
{"s":"20 wt % rGO","f":549541,"v":5010},{"s":"20 wt % rGO","f":691831,"v":4680},{"s":"20 wt % rGO","f":870964,"v":4370},{"s":"20 wt % rGO","f":1096478,"v":3980},{"s":"20 wt % rGO","f":1380384,"v":3390},{"s":"20 wt % rGO","f":1737801,"v":2950},{"s":"20 wt % rGO","f":2187762,"v":2510},{"s":"20 wt % rGO","f":2754229,"v":2090},{"s":"20 wt % rGO","f":3467369,"v":1700},{"s":"20 wt % rGO","f":4365158,"v":1350},
{"s":"20 wt % rGO","f":5495409,"v":1070}
]
},
"hconcat": [
{
  "width": 490, "height": 406,
  "data": {"name": "a"},
  "encoding": {
    "x": {"field": "f", "type": "quantitative", "scale": {"type": "log", "domain": [30, 10000000]},
      "axis": {"title": "Frequency (Hz)", "values": [30,40,50,60,70,80,90,100,200,300,400,500,600,700,800,900,1000,2000,3000,4000,5000,6000,7000,8000,9000,10000,20000,30000,40000,50000,60000,70000,80000,90000,100000,200000,300000,400000,500000,600000,700000,800000,900000,1000000,2000000,3000000,4000000,5000000,6000000,7000000,8000000,9000000,10000000],
        "labelExpr": "abs(log(datum.value)/LN10 - round(log(datum.value)/LN10)) < 0.001 ? '10' + ['\u2070','\u00b9','\u00b2','\u00b3','\u2074','\u2075','\u2076','\u2077'][round(log(datum.value)/LN10)] : ''",
        "tickSize": {"condition": {"test": "abs(log(datum.value)/LN10 - round(log(datum.value)/LN10)) < 0.001", "value": 6}, "value": 3.5},
        "labelFontSize": 16, "labelPadding": 2, "titlePadding": 14, "titleFontSize": 20}},
    "y": {"field": "v", "type": "quantitative", "scale": {"type": "log", "domain": [11.2, 100000]},
      "axis": {"title": "Dielectric Constant", "values": [20,30,40,50,60,70,80,90,100,200,300,400,500,600,700,800,900,1000,2000,3000,4000,5000,6000,7000,8000,9000,10000,20000,30000,40000,50000,60000,70000,80000,90000,100000],
        "labelExpr": "abs(log(datum.value)/LN10 - round(log(datum.value)/LN10)) < 0.001 ? '10' + ['\u2070','\u00b9','\u00b2','\u00b3','\u2074','\u2075','\u2076','\u2077'][round(log(datum.value)/LN10)] : ''",
        "tickSize": {"condition": {"test": "abs(log(datum.value)/LN10 - round(log(datum.value)/LN10)) < 0.001", "value": 6}, "value": 3.5},
        "labelFontSize": 21, "labelPadding": 2, "titlePadding": 5, "titleFontSize": 21}}
  },
  "layer": [
    {"transform": [{"filter": "datum.s === 'Neat PP'"}],
     "mark": {"type": "point", "filled": true, "shape": "M-1,0A1,1 0 0,1 1,0Z", "size": 100, "color": "#000000", "opacity": 1, "strokeWidth": 0}},
    {"transform": [{"filter": "datum.s === '10 wt % rGO'"}],
     "mark": {"type": "point", "filled": true, "shape": "M-1,0L0,-1L1,0Z", "size": 110, "color": "#7b7b28", "opacity": 1, "strokeWidth": 0}},
    {"mark": {"type": "point", "filled": false, "size": 100, "strokeWidth": 1.1, "opacity": 1},
     "encoding": {
       "shape": {"field": "s", "type": "nominal", "legend": null, "scale": {"domain": ["Neat PP","0.7 wt % rGO","1.5 wt % rGO","3.0 wt % rGO","5.0 wt % rGO","10 wt % rGO","15 wt % rGO","20 wt % rGO"], "range": ["circle","M0,-1L0.235,-0.324L0.951,-0.309L0.38,0.124L0.588,0.809L0,0.4L-0.588,0.809L-0.38,0.124L-0.951,-0.309L-0.235,-0.324Z","circle","diamond","triangle-down","diamond","circle","M0,-1L0.951,-0.309L0.588,0.809L-0.588,0.809L-0.951,-0.309Z"]}},
       "color": {"field": "s", "type": "nominal", "legend": null, "scale": {"domain": ["Neat PP","0.7 wt % rGO","1.5 wt % rGO","3.0 wt % rGO","5.0 wt % rGO","10 wt % rGO","15 wt % rGO","20 wt % rGO"], "range": ["#000000","#ff2a2a","#5a5ab8","#3a9a9a","#d058c8","#7b7b28","#5a5ab0","#b05a5a"]}}
     }},
    {"mark": {"type": "point", "filled": false, "size": 130, "opacity": 0},
     "encoding": {
       "color": {"field": "s", "type": "nominal", "scale": {"domain": ["Neat PP","0.7 wt % rGO","1.5 wt % rGO","3.0 wt % rGO","5.0 wt % rGO","10 wt % rGO","15 wt % rGO","20 wt % rGO"], "range": ["#000000","#ff4444","#44b044","#5050c0","#44cccc","#cc44cc","#eeee22","#8c8c3c"]},
         "legend": {"orient": "none", "legendX": 336, "legendY": 4, "title": null, "symbolType": "M-3.7,0H-1.15M1.15,0H3.7", "symbolSize": 130, "symbolStrokeWidth": 1.3, "symbolOpacity": 1, "labelOpacity": 0, "labelOffset": 15, "labelFontSize": 18.5, "rowPadding": 4.5}}
     }},
    {"mark": {"type": "point", "filled": true, "size": 130, "opacity": 0, "strokeWidth": 0},
     "encoding": {
       "fill": {"field": "s", "type": "nominal", "scale": {"domain": ["Neat PP","0.7 wt % rGO","1.5 wt % rGO","3.0 wt % rGO","5.0 wt % rGO","10 wt % rGO","15 wt % rGO","20 wt % rGO"], "range": ["#000000","rgba(0,0,0,0)","rgba(0,0,0,0)","rgba(0,0,0,0)","rgba(0,0,0,0)","#7b7b28","rgba(0,0,0,0)","rgba(0,0,0,0)"]},
         "legend": {"orient": "none", "legendX": 336, "legendY": 4, "title": null, "symbolSize": 130, "symbolStrokeWidth": 0, "symbolOpacity": 1, "labelOpacity": 0, "labelOffset": 15, "labelFontSize": 18.5, "rowPadding": 4.5}},
       "shape": {"field": "s", "type": "nominal", "scale": {"domain": ["Neat PP","0.7 wt % rGO","1.5 wt % rGO","3.0 wt % rGO","5.0 wt % rGO","10 wt % rGO","15 wt % rGO","20 wt % rGO"], "range": ["M-1,0A1,1 0 0,1 1,0Z","circle","circle","circle","circle","M-1,0L0,-1L1,0Z","circle","circle"]},
         "legend": {"orient": "none", "legendX": 336, "legendY": 4, "title": null, "symbolSize": 130, "symbolStrokeWidth": 0, "symbolOpacity": 1, "labelOpacity": 0, "labelOffset": 15, "labelFontSize": 18.5, "rowPadding": 4.5}}
     }},
    {"mark": {"type": "point", "filled": false, "size": 130, "opacity": 0, "strokeWidth": 1.2},
     "encoding": {
       "color": {"field": "s", "type": "nominal", "scale": {"domain": ["Neat PP","0.7 wt % rGO","1.5 wt % rGO","3.0 wt % rGO","5.0 wt % rGO","10 wt % rGO","15 wt % rGO","20 wt % rGO"], "range": ["#000000","#ff2a2a","#5a5ab8","#3a9a9a","#d058c8","#7b7b28","#5a5ab0","#b05a5a"]},
         "legend": {"orient": "none", "legendX": 336, "legendY": 4, "title": null, "symbolSize": 130, "symbolStrokeWidth": 1.2, "symbolOpacity": 1, "labelOffset": 15, "labelFontSize": 18.5, "rowPadding": 4.5}},
       "shape": {"field": "s", "type": "nominal", "scale": {"domain": ["Neat PP","0.7 wt % rGO","1.5 wt % rGO","3.0 wt % rGO","5.0 wt % rGO","10 wt % rGO","15 wt % rGO","20 wt % rGO"], "range": ["circle","M0,-1L0.235,-0.324L0.951,-0.309L0.38,0.124L0.588,0.809L0,0.4L-0.588,0.809L-0.38,0.124L-0.951,-0.309L-0.235,-0.324Z","circle","diamond","triangle-down","diamond","circle","M0,-1L0.951,-0.309L0.588,0.809L-0.588,0.809L-0.951,-0.309Z"]},
         "legend": {"orient": "none", "legendX": 336, "legendY": 4, "title": null, "symbolSize": 130, "symbolStrokeWidth": 1.2, "symbolOpacity": 1, "labelOffset": 15, "labelFontSize": 18.5, "rowPadding": 4.5}}
     }},
    {"transform": [{"filter": "datum.s === 'Neat PP' && datum.f === 55"}],
     "mark": {"type": "text", "text": "(a)", "font": "Liberation Serif", "fontWeight": "bold", "fontSize": 27, "align": "left", "baseline": "middle", "color": "black"},
     "encoding": {"x": {"datum": 40, "type": "quantitative"}, "y": {"datum": 23, "type": "quantitative"}}}
  ],
  "resolve": {"scale": {"color": "independent", "shape": "independent", "fill": "independent"}}
},
{
  "width": 480, "height": 401,
  "data": {"name": "b"},
  "encoding": {
    "x": {"field": "f", "type": "quantitative", "scale": {"type": "log", "domain": [34, 6900000]},
      "axis": {"title": "Frequency (Hz)", "values": [40,50,60,70,80,90,100,200,300,400,500,600,700,800,900,1000,2000,3000,4000,5000,6000,7000,8000,9000,10000,20000,30000,40000,50000,60000,70000,80000,90000,100000,200000,300000,400000,500000,600000,700000,800000,900000,1000000,2000000,3000000,4000000,5000000,6000000],
        "labelExpr": "abs(log(datum.value)/LN10 - round(log(datum.value)/LN10)) < 0.001 ? '10' + ['\u2070','\u00b9','\u00b2','\u00b3','\u2074','\u2075','\u2076','\u2077'][round(log(datum.value)/LN10)] : ''",
        "tickSize": {"condition": {"test": "abs(log(datum.value)/LN10 - round(log(datum.value)/LN10)) < 0.001", "value": 6}, "value": 3.5},
        "labelFontSize": 17, "labelPadding": 15, "titlePadding": 10, "titleFontSize": 20}},
    "y": {"field": "v", "type": "quantitative", "scale": {"type": "log", "domain": [1, 1000000]},
      "axis": {"title": "Loss Factor", "values": [1,2,3,4,5,6,7,8,9,10,20,30,40,50,60,70,80,90,100,200,300,400,500,600,700,800,900,1000,2000,3000,4000,5000,6000,7000,8000,9000,10000,20000,30000,40000,50000,60000,70000,80000,90000,100000,200000,300000,400000,500000,600000,700000,800000,900000,1000000],
        "labelExpr": "abs(log(datum.value)/LN10 - round(log(datum.value)/LN10)) < 0.001 ? '10' + ['\u2070','\u00b9','\u00b2','\u00b3','\u2074','\u2075','\u2076','\u2077'][round(log(datum.value)/LN10)] : ''",
        "tickSize": {"condition": {"test": "abs(log(datum.value)/LN10 - round(log(datum.value)/LN10)) < 0.001", "value": 6}, "value": 3.5},
        "labelFontSize": 21, "labelPadding": 2, "titlePadding": -3, "titleFontSize": 21}}
  },
  "layer": [
    {"transform": [{"filter": "datum.s === 'Neat PP'"}],
     "mark": {"type": "point", "filled": true, "shape": "M-1,0A1,1 0 0,1 1,0Z", "size": 100, "color": "#000000", "opacity": 1, "strokeWidth": 0}},
    {"transform": [{"filter": "datum.s === '10 wt % rGO'"}],
     "mark": {"type": "point", "filled": true, "shape": "M-1,0L0,-1L1,0Z", "size": 110, "color": "#7a7a20", "opacity": 1, "strokeWidth": 0}},
    {"mark": {"type": "point", "filled": false, "size": 100, "strokeWidth": 1.1, "opacity": 1},
     "encoding": {
       "shape": {"field": "s", "type": "nominal", "legend": null, "scale": {"domain": ["Neat PP","0.7 wt % rGO","1.5 wt % rGO","3.0 wt % rGO","5.0 wt % rGO","10 wt % rGO","15 wt % rGO","20 wt % rGO"], "range": ["circle","M0,-1L0.235,-0.324L0.951,-0.309L0.38,0.124L0.588,0.809L0,0.4L-0.588,0.809L-0.38,0.124L-0.951,-0.309L-0.235,-0.324Z","circle","diamond","triangle-down","diamond","circle","M0,-1L0.951,-0.309L0.588,0.809L-0.588,0.809L-0.951,-0.309Z"]}},
       "color": {"field": "s", "type": "nominal", "legend": null, "scale": {"domain": ["Neat PP","0.7 wt % rGO","1.5 wt % rGO","3.0 wt % rGO","5.0 wt % rGO","10 wt % rGO","15 wt % rGO","20 wt % rGO"], "range": ["#000000","#ff2020","#3a4ac8","#2a9a9a","#c848c0","#7a7a20","#4848a8","#a84848"]}}
     }},
    {"transform": [{"filter": "indexof(['Neat PP','0.7 wt % rGO','1.5 wt % rGO'], datum.s) >= 0"}],
     "mark": {"type": "point", "filled": false, "size": 130, "opacity": 0},
     "encoding": {
       "color": {"field": "s", "type": "nominal", "scale": {"domain": ["Neat PP","0.7 wt % rGO","1.5 wt % rGO"], "range": ["#000000","#ff0000","#3040c0"]},
         "legend": {"orient": "none", "legendX": 124, "legendY": -1, "title": null, "symbolType": "M-3.7,0H-1.15M1.15,0H3.7", "symbolSize": 130, "symbolStrokeWidth": 2.6, "symbolOpacity": 1, "labelOpacity": 0, "labelOffset": 15, "labelFontSize": 19, "rowPadding": 5}}
     }},
    {"transform": [{"filter": "indexof(['Neat PP','0.7 wt % rGO','1.5 wt % rGO'], datum.s) >= 0"}],
     "mark": {"type": "point", "filled": true, "size": 130, "opacity": 0, "strokeWidth": 0},
     "encoding": {
       "fill": {"field": "s", "type": "nominal", "scale": {"domain": ["Neat PP","0.7 wt % rGO","1.5 wt % rGO"], "range": ["#000000","rgba(0,0,0,0)","rgba(0,0,0,0)"]},
         "legend": {"orient": "none", "legendX": 124, "legendY": -1, "title": null, "symbolSize": 130, "symbolStrokeWidth": 0, "symbolOpacity": 1, "labelOpacity": 0, "labelOffset": 15, "labelFontSize": 19, "rowPadding": 5}},
       "shape": {"field": "s", "type": "nominal", "scale": {"domain": ["Neat PP","0.7 wt % rGO","1.5 wt % rGO"], "range": ["M-1,0A1,1 0 0,1 1,0Z","circle","circle"]},
         "legend": {"orient": "none", "legendX": 124, "legendY": -1, "title": null, "symbolSize": 130, "symbolStrokeWidth": 0, "symbolOpacity": 1, "labelOpacity": 0, "labelOffset": 15, "labelFontSize": 19, "rowPadding": 5}}
     }},
    {"transform": [{"filter": "indexof(['Neat PP','0.7 wt % rGO','1.5 wt % rGO'], datum.s) >= 0"}],
     "mark": {"type": "point", "filled": false, "size": 130, "opacity": 0, "strokeWidth": 1.2},
     "encoding": {
       "color": {"field": "s", "type": "nominal", "scale": {"domain": ["Neat PP","0.7 wt % rGO","1.5 wt % rGO"], "range": ["#000000","#ff2020","#3a4ac8"]},
         "legend": {"orient": "none", "legendX": 124, "legendY": -1, "title": null, "symbolSize": 130, "symbolStrokeWidth": 1.2, "symbolOpacity": 1, "labelOffset": 15, "labelFontSize": 19, "rowPadding": 5}},
       "shape": {"field": "s", "type": "nominal", "scale": {"domain": ["Neat PP","0.7 wt % rGO","1.5 wt % rGO"], "range": ["circle","M0,-1L0.235,-0.324L0.951,-0.309L0.38,0.124L0.588,0.809L0,0.4L-0.588,0.809L-0.38,0.124L-0.951,-0.309L-0.235,-0.324Z","circle"]},
         "legend": {"orient": "none", "legendX": 124, "legendY": -1, "title": null, "symbolSize": 130, "symbolStrokeWidth": 1.2, "symbolOpacity": 1, "labelOffset": 15, "labelFontSize": 19, "rowPadding": 5}}
     }},
    {"transform": [{"filter": "indexof(['3.0 wt % rGO','5.0 wt % rGO','10 wt % rGO','15 wt % rGO','20 wt % rGO'], datum.s) >= 0"}],
     "mark": {"type": "point", "filled": false, "size": 130, "opacity": 0},
     "encoding": {
       "color": {"field": "s", "type": "nominal", "scale": {"domain": ["3.0 wt % rGO","5.0 wt % rGO","10 wt % rGO","15 wt % rGO","20 wt % rGO"], "range": ["#109090","#d040b0","#808020","#202090","#8b1414"]},
         "legend": {"orient": "none", "legendX": 317, "legendY": -1, "title": null, "symbolType": "M-3.7,0H-1.15M1.15,0H3.7", "symbolSize": 130, "symbolStrokeWidth": 2.6, "symbolOpacity": 1, "labelOpacity": 0, "labelOffset": 18, "labelFontSize": 19, "rowPadding": 5}}
     }},
    {"transform": [{"filter": "indexof(['3.0 wt % rGO','5.0 wt % rGO','10 wt % rGO','15 wt % rGO','20 wt % rGO'], datum.s) >= 0"}],
     "mark": {"type": "point", "filled": true, "size": 130, "opacity": 0, "strokeWidth": 0},
     "encoding": {
       "fill": {"field": "s", "type": "nominal", "scale": {"domain": ["3.0 wt % rGO","5.0 wt % rGO","10 wt % rGO","15 wt % rGO","20 wt % rGO"], "range": ["rgba(0,0,0,0)","rgba(0,0,0,0)","#7a7a20","rgba(0,0,0,0)","rgba(0,0,0,0)"]},
         "legend": {"orient": "none", "legendX": 317, "legendY": -1, "title": null, "symbolSize": 130, "symbolStrokeWidth": 0, "symbolOpacity": 1, "labelOpacity": 0, "labelOffset": 18, "labelFontSize": 19, "rowPadding": 5}},
       "shape": {"field": "s", "type": "nominal", "scale": {"domain": ["3.0 wt % rGO","5.0 wt % rGO","10 wt % rGO","15 wt % rGO","20 wt % rGO"], "range": ["circle","circle","M-1,0L0,-1L1,0Z","circle","circle"]},
         "legend": {"orient": "none", "legendX": 317, "legendY": -1, "title": null, "symbolSize": 130, "symbolStrokeWidth": 0, "symbolOpacity": 1, "labelOpacity": 0, "labelOffset": 18, "labelFontSize": 19, "rowPadding": 5}}
     }},
    {"transform": [{"filter": "indexof(['3.0 wt % rGO','5.0 wt % rGO','10 wt % rGO','15 wt % rGO','20 wt % rGO'], datum.s) >= 0"}],
     "mark": {"type": "point", "filled": false, "size": 130, "opacity": 0, "strokeWidth": 1.2},
     "encoding": {
       "color": {"field": "s", "type": "nominal", "scale": {"domain": ["3.0 wt % rGO","5.0 wt % rGO","10 wt % rGO","15 wt % rGO","20 wt % rGO"], "range": ["#2a9a9a","#c848c0","#7a7a20","#4848a8","#a84848"]},
         "legend": {"orient": "none", "legendX": 317, "legendY": -1, "title": null, "symbolSize": 130, "symbolStrokeWidth": 1.2, "symbolOpacity": 1, "labelOffset": 18, "labelFontSize": 19, "rowPadding": 5}},
       "shape": {"field": "s", "type": "nominal", "scale": {"domain": ["3.0 wt % rGO","5.0 wt % rGO","10 wt % rGO","15 wt % rGO","20 wt % rGO"], "range": ["diamond","triangle-down","diamond","circle","M0,-1L0.951,-0.309L0.588,0.809L-0.588,0.809L-0.951,-0.309Z"]},
         "legend": {"orient": "none", "legendX": 317, "legendY": -1, "title": null, "symbolSize": 130, "symbolStrokeWidth": 1.2, "symbolOpacity": 1, "labelOffset": 18, "labelFontSize": 19, "rowPadding": 5}}
     }},
    {"transform": [{"filter": "datum.s === 'Neat PP' && datum.f === 55"}],
     "mark": {"type": "text", "text": "(b)", "font": "Liberation Serif", "fontWeight": "bold", "fontSize": 27, "align": "left", "baseline": "middle", "color": "black"},
     "encoding": {"x": {"datum": 44, "type": "quantitative"}, "y": {"datum": 2.4, "type": "quantitative"}}}
  ],
  "resolve": {"scale": {"color": "independent", "shape": "independent", "fill": "independent"}}
}
]
}
